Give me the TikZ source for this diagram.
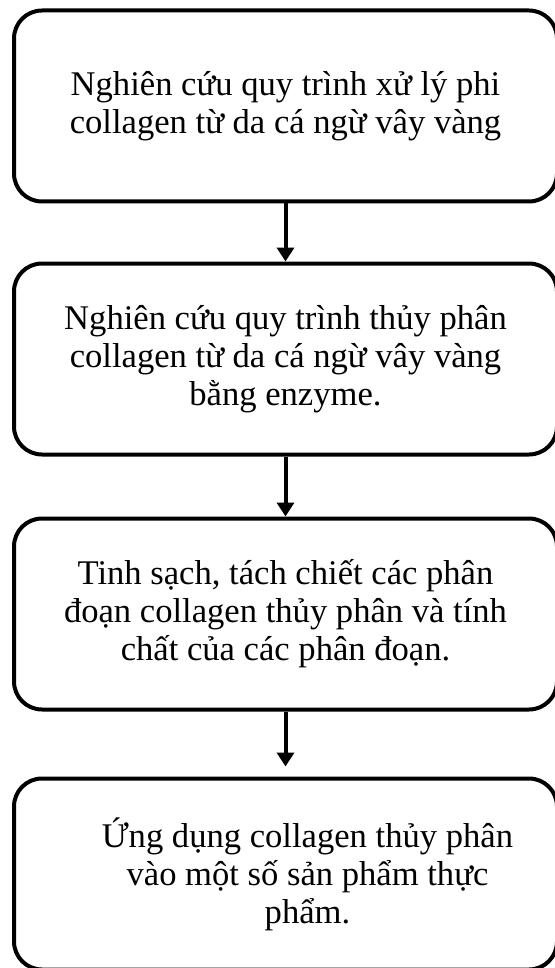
\documentclass[tikz,border=0pt]{standalone}
\usepackage{fontspec}
\setmainfont{Liberation Serif}
\usetikzlibrary{arrows.meta, positioning}

\begin{document}
\begin{tikzpicture}[
    node distance=29pt,
    box/.style={draw, line width=2pt, rounded corners=14pt, minimum width=271.5pt, minimum height=95.5pt, align=center, font=\fontsize{17.3}{19}\selectfont},
    arrow/.style={-{Triangle[length=7pt, width=8.5pt]}, line width=2pt}
]
    \useasboundingbox (0,0) rectangle (277.5pt,-484pt);
    \node[box] (xuly) at (142.75pt,-53pt) {Nghiên cứu quy trình xử lý phi\\collagen từ da cá ngừ vây vàng};
    \node[box, below=of xuly] (thuyphan) {Nghiên cứu quy trình thủy phân\\collagen từ da cá ngừ vây vàng\\bằng enzyme.};
    \node[box, below=30pt of thuyphan] (tinhsach) {Tinh sạch, tách chiết các phân\\đoạn collagen thủy phân và tính\\chất của các phân đoạn.};
    \node[box, below=32.5pt of tinhsach] (ungdung) {\hspace*{22pt}Ứng dụng collagen thủy phân\\\hspace*{22pt}vào một số sản phẩm thực\\\hspace*{22pt}phẩm.};

    \draw[arrow] (xuly.south) -- (thuyphan.north);
    \draw[arrow] (thuyphan.south) -- (tinhsach.north);
    \draw[arrow] (tinhsach.south) -- ([yshift=5pt]ungdung.north);
\end{tikzpicture}
\end{document}
